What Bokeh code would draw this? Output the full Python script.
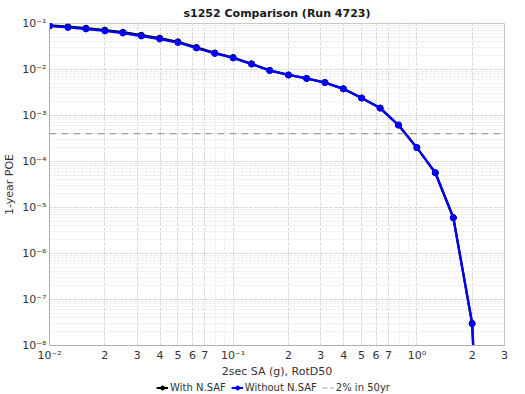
from bokeh.plotting import figure
from bokeh.layouts import column
from bokeh.models import (FixedTicker, CustomJSTickFormatter, Legend, LegendItem, ColumnDataSource)
from bokeh.embed import file_html
from bokeh.resources import INLINE

# ---- data ----
sa_g = [0.01, 0.0126, 0.0158, 0.02, 0.0251, 0.0316, 0.0398, 0.05, 0.0631, 0.0794,
        0.1, 0.126, 0.158, 0.2, 0.251, 0.316, 0.398, 0.5, 0.631, 0.794,
        1.0, 1.26, 1.58, 2.0, 2.51]
poe_without = [0.088, 0.082, 0.076, 0.069, 0.062, 0.0535, 0.046, 0.0386, 0.0293, 0.0223,
               0.0178, 0.0131, 0.0095, 0.0076, 0.0064, 0.0052, 0.0038, 0.0024, 0.00145, 0.00062,
               0.0002, 5.7e-5, 6.0e-6, 3.0e-8, 1e-16]
poe_with = [0.091, 0.085, 0.079, 0.072, 0.0645, 0.0556, 0.0478, 0.0400, 0.0302, 0.0229,
            0.0182, 0.0133, 0.0096, 0.0076, 0.0064, 0.0052, 0.0038, 0.0024, 0.00145, 0.00062,
            0.0002, 5.7e-5, 6.0e-6, 3.0e-8, 1e-16]
poe_2in50 = 4.04e-4
x_major = [0.01, 0.02, 0.03, 0.04, 0.05, 0.06, 0.07, 0.1, 0.2, 0.3, 0.4, 0.5, 0.6, 0.7, 1.0, 2.0, 3.0]
x_minor = [m * d for d in (0.01, 0.1, 1.0) for m in range(1, 10) if m * d <= 3.0001]
y_major = [1e-8, 1e-7, 1e-6, 1e-5, 1e-4, 1e-3, 1e-2, 1e-1]
y_minor = [m * d for d in (1e-8, 1e-7, 1e-6, 1e-5, 1e-4, 1e-3, 1e-2) for m in range(1, 10)]
legend_labels = ["With N.SAF", "Without N.SAF", "2% in 50yr"]
legend_dummy_x = [5.0, 6.0]   # outside the strip's range, only to give the legend glyphs a source
legend_dummy_y = [5.0, 6.0]

FONT = "DejaVu Sans"
BLACK = "black"
BLUE = "#0000ff"
REF = "#a0a0a0"

p = figure(x_axis_type="log", y_axis_type="log",
           x_range=(0.01, 3.0), y_range=(1e-8, 1e-1),
           output_backend="svg", toolbar_location=None,
           title="s1252 Comparison (Run 4723)",
           min_border_left=2, min_border_right=12, min_border_top=0, min_border_bottom=0)
p.frame_width = 455
p.frame_height = 322

p.title.align = "center"
p.title.text_font = FONT
p.title.text_font_size = "11px"
p.title.text_font_style = "bold"
p.title.text_color = "#1a1a1a"
p.title.offset = 0
p.title.standoff = 8

fmt_code = """
const sup = {"-":"\u207b","0":"\u2070","1":"\u00b9","2":"\u00b2","3":"\u00b3","4":"\u2074",
             "5":"\u2075","6":"\u2076","7":"\u2077","8":"\u2078","9":"\u2079"};
const e = Math.floor(Math.log10(tick) + 1e-9);
const m = tick / Math.pow(10, e);
if (Math.abs(m - 1) < 1e-6) {
  return "10" + String(e).split("").map(c => sup[c]).join("");
}
return String(Math.round(m));
"""

for ax in (p.xaxis[0], p.yaxis[0]):
    ax.formatter = CustomJSTickFormatter(code=fmt_code)
    ax.major_label_text_font = FONT
    ax.major_label_text_font_size = "11px"
    ax.major_label_text_color = "#333333"
    ax.axis_label_text_font = FONT
    ax.axis_label_text_font_size = "11px"
    ax.axis_label_text_font_style = "normal"
    ax.axis_label_text_color = "#333333"
    ax.axis_line_color = "#b0b0b0"
    ax.major_tick_line_color = None
    ax.minor_tick_line_color = None
    ax.major_tick_out = 0
    ax.minor_tick_out = 0
    ax.major_tick_in = 0
    ax.minor_tick_in = 0

p.xaxis.ticker = FixedTicker(ticks=x_major, minor_ticks=x_minor)
p.yaxis.ticker = FixedTicker(ticks=y_major, minor_ticks=y_minor)
p.xaxis.axis_label = "2sec SA (g), RotD50"
p.yaxis.axis_label = "1-year POE"
p.xaxis.major_label_standoff = 3
p.yaxis.major_label_standoff = 3
p.xaxis.axis_label_standoff = 0
p.yaxis.axis_label_standoff = 3
p.xaxis.axis_label_text_line_height = 0.6
p.xaxis.major_label_text_line_height = 0.9

for g in (p.xgrid[0], p.ygrid[0]):
    g.grid_line_color = "#d8d8d8"
    g.grid_line_dash = "3 2"
    g.minor_grid_line_color = "#e6e6e6"
    g.minor_grid_line_dash = "2 2"

p.outline_line_color = "#c8c8c8"
p.outline_line_width = 1
p.background_fill_color = "white"
p.border_fill_color = "white"

src_with = ColumnDataSource(dict(x=sa_g, y=poe_with))
src_without = ColumnDataSource(dict(x=sa_g, y=poe_without))

p.line("x", "y", source=src_with, line_color=BLACK, line_width=2.3)
p.scatter("x", "y", source=src_with, size=6, fill_color=BLACK, line_color=BLACK)
p.line("x", "y", source=src_without, line_color=BLUE, line_width=2.3)
p.scatter("x", "y", source=src_without, size=6, fill_color=BLUE, line_color=BLUE)
p.line(x=[0.01, 3.0], y=[poe_2in50, poe_2in50], line_color=REF,
       line_width=1.2, line_dash="7 5")

# ---- legend strip below the plot ----
lg = figure(width=509, height=14, x_range=(0, 1), y_range=(0, 1),
            output_backend="svg", toolbar_location=None,
            x_axis_location=None, y_axis_location=None,
            min_border_left=0, min_border_right=0, min_border_top=0, min_border_bottom=0)
lg.outline_line_color = None
lg.xgrid.visible = False
lg.ygrid.visible = False
dummy = ColumnDataSource(dict(x=legend_dummy_x, y=legend_dummy_y))
a1 = lg.line("x", "y", source=dummy, line_color=BLACK, line_width=2)
a2 = lg.scatter("x", "y", source=dummy, size=5, fill_color=BLACK, line_color=BLACK)
b1 = lg.line("x", "y", source=dummy, line_color=BLUE, line_width=2)
b2 = lg.scatter("x", "y", source=dummy, size=5, fill_color=BLUE, line_color=BLUE)
r1 = lg.line("x", "y", source=dummy, line_color=REF, line_width=1.2, line_dash="5 3")

legend = Legend(items=[
    LegendItem(label=legend_labels[0], renderers=[a1, a2]),
    LegendItem(label=legend_labels[1], renderers=[b1, b2]),
    LegendItem(label=legend_labels[2], renderers=[r1]),
], orientation="horizontal", location="center")
legend.label_text_font = FONT
legend.label_text_font_size = "10px"
legend.label_text_color = "#333333"
legend.glyph_width = 12
legend.glyph_height = 10
legend.label_standoff = 2
legend.spacing = 5
legend.padding = 0
legend.margin = 0
legend.border_line_color = None
legend.background_fill_alpha = 0
legend.label_height = 11
lg.add_layout(legend, "center")

layout = column(p, lg, spacing=0)
open("out.html", "w").write(file_html(layout, INLINE))
